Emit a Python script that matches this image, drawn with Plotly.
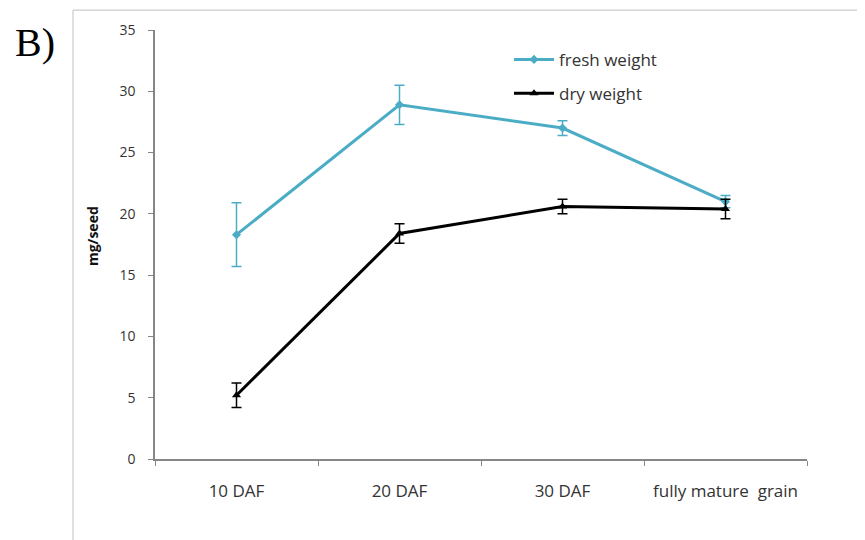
import plotly.graph_objects as go

categories = ["10 DAF", "20 DAF", "30 DAF", "fully mature  grain"]
fresh_weight = [18.3, 28.9, 27.0, 21.0]
fresh_err = [2.6, 1.6, 0.6, 0.5]
dry_weight = [5.2, 18.4, 20.6, 20.4]
dry_err = [1.0, 0.8, 0.6, 0.8]
y_ticks = [0, 5, 10, 15, 20, 25, 30, 35]

teal = "#4BACC6"
font_fam = "Open Sans, Liberation Sans, sans-serif"
txt = "#333333"

fig = go.Figure()
fig.add_trace(go.Scatter(
    x=categories, y=fresh_weight, name="fresh weight", mode="lines+markers",
    line=dict(color=teal, width=3), marker=dict(symbol="diamond", size=7, color=teal),
    error_y=dict(type="data", array=fresh_err, visible=True, color=teal, thickness=1.5, width=5),
    legend="legend",
))
fig.add_trace(go.Scatter(
    x=categories, y=dry_weight, name="dry weight", mode="lines+markers",
    line=dict(color="black", width=3), marker=dict(symbol="triangle-up", size=8, color="black"),
    error_y=dict(type="data", array=dry_err, visible=True, color="black", thickness=1.5, width=5),
    legend="legend2",
))

OFF = 8  # page body margin
W, H = 865 - OFF, 540 - OFF
l, r, t, b = 155 - OFF, 865 - 807, 28 - OFF, 540 - 459
pw, ph = W - l - r, H - t - b

def px(x):
    return (x - OFF - l) / pw

def py(y):
    return (H - b - (y - OFF)) / ph

legend_common = dict(font=dict(family=font_fam, size=17, color=txt), bgcolor="rgba(0,0,0,0)",
                     xanchor="left", yanchor="middle", itemwidth=40, tracegroupgap=0)

fig.update_layout(
    width=W, height=H,
    margin=dict(l=l, r=r, t=t, b=b),
    paper_bgcolor="white", plot_bgcolor="white",
    font=dict(family=font_fam, size=14, color=txt),
    showlegend=True,
    legend=dict(x=px(509), y=py(58), **legend_common),
    legend2=dict(x=px(509), y=py(92), **legend_common),
    xaxis=dict(
        type="category", tickson="boundaries", ticks="outside", ticklen=5,
        tickcolor="#868686", showline=True, linecolor="#868686", linewidth=1.5,
        showgrid=False, ticklabelstandoff=16, tickfont=dict(size=17, color=txt),
        range=[-0.5, 3.5],
    ),
    yaxis=dict(
        range=[0, 35], tickvals=y_ticks, ticks="outside", ticklen=5,
        tickcolor="#868686", showline=True, linecolor="#868686", linewidth=1.5,
        showgrid=False, zeroline=False, ticklabelstandoff=10, tickfont=dict(size=14, color=txt),
    ),
    shapes=[dict(type="rect", xref="paper", yref="paper",
                 x0=px(73), x1=px(870), y0=py(545), y1=py(8),
                 line=dict(color="#BFBFBF", width=1), fillcolor="rgba(0,0,0,0)", layer="below")],
    annotations=[
        dict(text="B)", xref="paper", yref="paper", x=px(35), y=py(41),
             xanchor="center", yanchor="middle", showarrow=False,
             font=dict(family="Liberation Serif, DejaVu Serif, serif", size=40, color="black")),
        dict(text="<b>mg/seed</b>", xref="paper", yref="paper", x=px(92), y=py(235),
             xanchor="center", yanchor="middle", showarrow=False, textangle=-90,
             font=dict(family=font_fam, size=14, color="#111")),
    ],
)

fig.write_html("out.html")
